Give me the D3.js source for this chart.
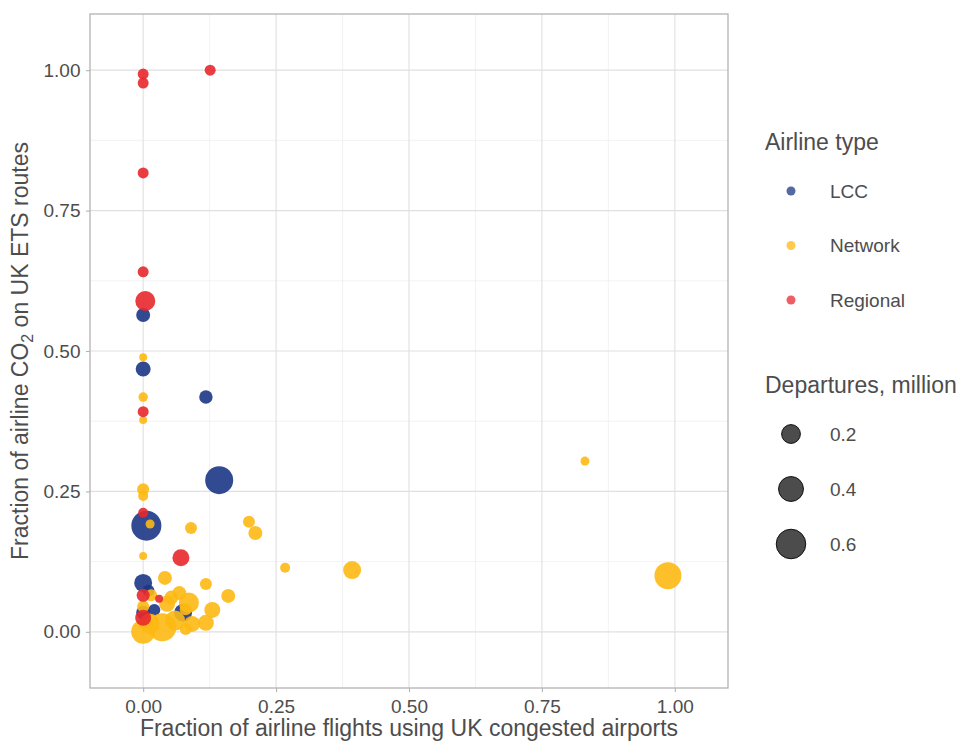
<!DOCTYPE html>
<html><head><meta charset="utf-8">
<script src="https://cdn.jsdelivr.net/npm/d3@7"></script>
<style>body{margin:0;background:#fff}svg{display:block}text{font-family:"Liberation Sans",Arial,sans-serif}</style>
</head><body>
<svg id="chart" width="960" height="742"></svg>
<script>
// ---- data ----
const airlineTypes = ["LCC", "Network", "Regional"];
const typeColors = ["#1b3686", "#fdb913", "#e8282d"];
const xTicks = [0, 0.25, 0.5, 0.75, 1];
const yTicks = [0, 0.25, 0.5, 0.75, 1];
const sizeBreaks = [0.2, 0.4, 0.6];

const lccX   = [0.000, 0.000, 0.118, 0.143, 0.006, 0.000, 0.010, 0.000, 0.021, 0.075];
const lccY   = [0.564, 0.468, 0.418, 0.270, 0.189, 0.087, 0.073, 0.034, 0.039, 0.034];
const lccDep = [0.074, 0.092, 0.065, 0.486, 0.574, 0.155, 0.045, 0.074, 0.045, 0.155];

const netX   = [0.000, 0.000, 0.000, 0.000, 0.000, 0.013, 0.090, 0.199, 0.211, 0.000, 0.267, 0.393, 0.831, 0.987,
                0.041, 0.118, 0.160, 0.068, 0.053, 0.045, 0.086, 0.130, 0.118, 0.092, 0.080, 0.060, 0.036, 0.000, 0.012, 0.000, 0.015, 0.080];
const netY   = [0.489, 0.418, 0.377, 0.254, 0.242, 0.192, 0.185, 0.196, 0.176, 0.135, 0.114, 0.110, 0.304, 0.100,
                0.096, 0.085, 0.064, 0.069, 0.061, 0.050, 0.052, 0.039, 0.016, 0.014, 0.005, 0.020, 0.008, 0.000, 0.015, 0.045, 0.065, 0.040];
const netDep = [0.008, 0.018, 0.008, 0.045, 0.023, 0.015, 0.045, 0.045, 0.074, 0.008, 0.023, 0.155, 0.015, 0.444,
                0.074, 0.045, 0.074, 0.074, 0.074, 0.111, 0.207, 0.111, 0.111, 0.111, 0.045, 0.207, 0.486, 0.331, 0.207, 0.045, 0.045, 0.045];

const regX   = [0.000, 0.000, 0.126, 0.000, 0.000, 0.004, 0.000, 0.000, 0.071, 0.030, 0.000, 0.000];
const regY   = [0.993, 0.977, 1.000, 0.817, 0.641, 0.589, 0.392, 0.212, 0.132, 0.059, 0.065, 0.025];
const regDep = [0.033, 0.033, 0.033, 0.033, 0.033, 0.207, 0.033, 0.023, 0.132, 0.008, 0.059, 0.111];

const series = [
  {type: "LCC", x: lccX, y: lccY, d: lccDep},
  {type: "Network", x: netX, y: netY, d: netDep},
  {type: "Regional", x: regX, y: regY, d: regDep}
];

// ---- layout ----
const svg = d3.select("#chart");
const panel = {left: 90, right: 728, top: 14, bottom: 688};
const x = d3.scaleLinear().domain([-0.1, 1.1]).range([panel.left, panel.right]);
const y = d3.scaleLinear().domain([-0.1, 1.1]).range([panel.bottom, panel.top]);
const r = d3.scaleSqrt().domain([0, 1]).range([2.5, 19]);
const color = d3.scaleOrdinal().domain(airlineTypes).range(typeColors);

const g = svg.append("g");
// minor grid
const minors = [-0.125, 0.125, 0.375, 0.625, 0.875, 1.125].filter(v => v > -0.1 && v < 1.1);
g.selectAll(".vmin").data(minors).join("line")
  .attr("x1", d => x(d)).attr("x2", d => x(d)).attr("y1", panel.top).attr("y2", panel.bottom)
  .attr("stroke", "#ececec").attr("stroke-width", 0.7);
g.selectAll(".hmin").data(minors).join("line")
  .attr("y1", d => y(d)).attr("y2", d => y(d)).attr("x1", panel.left).attr("x2", panel.right)
  .attr("stroke", "#ececec").attr("stroke-width", 0.7);
// major grid
g.selectAll(".vmaj").data(xTicks).join("line")
  .attr("x1", d => x(d)).attr("x2", d => x(d)).attr("y1", panel.top).attr("y2", panel.bottom)
  .attr("stroke", "#e0e0e0").attr("stroke-width", 1.1);
g.selectAll(".hmaj").data(yTicks).join("line")
  .attr("y1", d => y(d)).attr("y2", d => y(d)).attr("x1", panel.left).attr("x2", panel.right)
  .attr("stroke", "#e0e0e0").attr("stroke-width", 1.1);

// points
const pts = [];
series.forEach(s => s.x.forEach((v, i) => pts.push({type: s.type, x: v, y: s.y[i], d: s.d[i]})));
g.selectAll(".pt").data(pts).join("circle")
  .attr("cx", d => x(d.x)).attr("cy", d => y(d.y)).attr("r", d => r(d.d))
  .attr("fill", d => color(d.type)).attr("fill-opacity", 0.9);

// panel border
g.append("rect").attr("x", panel.left).attr("y", panel.top)
  .attr("width", panel.right - panel.left).attr("height", panel.bottom - panel.top)
  .attr("fill", "none").attr("stroke", "#b3b3b3").attr("stroke-width", 1.3);

// axes
const fmt = d3.format(".2f");
const xAxis = svg.append("g").attr("transform", `translate(0,${panel.bottom})`)
  .call(d3.axisBottom(x).tickValues(xTicks).tickFormat(fmt).tickSize(4).tickPadding(7.5));
const yAxis = svg.append("g").attr("transform", `translate(${panel.left},0)`)
  .call(d3.axisLeft(y).tickValues(yTicks).tickFormat(fmt).tickSize(4).tickPadding(5.5));
[xAxis, yAxis].forEach(a => {
  a.select(".domain").remove();
  a.selectAll(".tick line").attr("stroke", "#b3b3b3").attr("stroke-width", 1.1);
  a.selectAll(".tick text").attr("fill", "#4d4d4d").style("font-size", "19px")
    .style("font-family", '"Liberation Sans", Arial, sans-serif');
});

// axis titles
svg.append("text").attr("x", (panel.left + panel.right) / 2).attr("y", 736)
  .attr("text-anchor", "middle").attr("fill", "#4d4d4d").style("font-size", "23px")
  .text("Fraction of airline flights using UK congested airports");
const yt = svg.append("text").attr("transform", `translate(28,${(panel.top + panel.bottom) / 2}) rotate(-90)`)
  .attr("text-anchor", "middle").attr("fill", "#4d4d4d").style("font-size", "23px");
yt.append("tspan").text("Fraction of airline CO");
yt.append("tspan").attr("dy", 5).style("font-size", "16px").text("2");
yt.append("tspan").attr("dy", -5).text(" on UK ETS routes");

// legend: airline type
const lg = svg.append("g");
lg.append("text").attr("x", 765).attr("y", 150).attr("fill", "#4d4d4d").style("font-size", "23px").text("Airline type");
lg.selectAll(".lk").data(airlineTypes).join("circle")
  .attr("cx", 791).attr("cy", (d, i) => 191 + i * 54.5).attr("r", 4.5)
  .attr("fill", d => color(d)).attr("fill-opacity", 0.75);
lg.selectAll(".lt").data(airlineTypes).join("text")
  .attr("x", 830).attr("y", (d, i) => 191 + i * 54.5).attr("dy", "0.35em")
  .attr("fill", "#4d4d4d").style("font-size", "19px").text(d => d);

// legend: size
lg.append("text").attr("x", 765).attr("y", 393).attr("fill", "#4d4d4d").style("font-size", "23px").text("Departures, million");
lg.selectAll(".sk").data(sizeBreaks).join("circle")
  .attr("cx", 791).attr("cy", (d, i) => 434 + i * 55).attr("r", d => r(d) - 0.5)
  .attr("fill", "#333").attr("fill-opacity", 0.88).attr("stroke", "#111").attr("stroke-width", 1);
lg.selectAll(".st").data(sizeBreaks).join("text")
  .attr("x", 830).attr("y", (d, i) => 434 + i * 55).attr("dy", "0.35em")
  .attr("fill", "#4d4d4d").style("font-size", "19px").text(d => d.toFixed(1));
</script>
</body></html>
